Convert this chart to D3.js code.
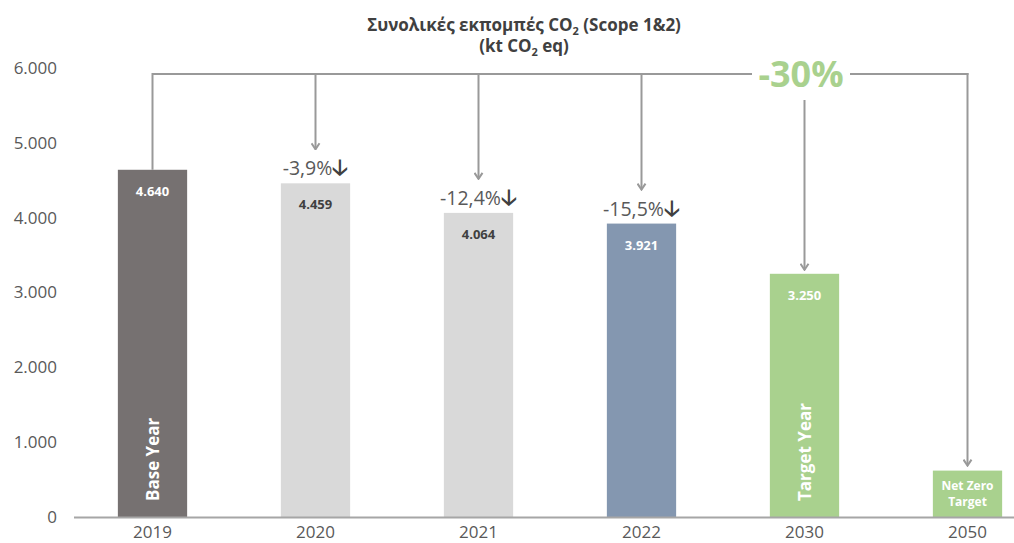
<!DOCTYPE html>
<html><head><meta charset="utf-8">
<script src="https://cdn.jsdelivr.net/npm/d3@7/dist/d3.min.js"></script>
<style>body{margin:0;background:#fff;} text{font-family:"Open Sans",sans-serif;}</style>
</head><body><svg id="c" width="1014" height="543"></svg>
<script>
const categories = ["2019","2020","2021","2022","2030","2050"];
const values = [4640, 4459, 4064, 3921, 3250, 620];
const valueLabels = ["4.640","4.459","4.064","3.921","3.250","Net Zero\nTarget"];
const barColors = ["#767171","#d9d9d9","#d9d9d9","#8497b0","#a9d18e","#a9d18e"];
const labelColors = ["#ffffff","#404040","#404040","#ffffff","#ffffff","#ffffff"];
const changeLabels = [null,"-3,9%","-12,4%","-15,5%",null,null];
const sideLabels = ["Base Year",null,null,null,"Target Year",null];
const yTicks = [0,1000,2000,3000,4000,5000,6000];
const totalChange = "-30%";

const svg = d3.select("#c");
const x = d3.scaleBand().domain(categories).range([71,1049]).paddingInner(0.575).paddingOuter(0.2875);
const y = d3.scaleLinear().domain([0,6000]).range([517,68]);
const fmt = d3.formatLocale({decimal:",",thousands:".",grouping:[3],currency:["","€"]}).format(",.0f");

// title
const t = svg.append("text").attr("text-anchor","middle").attr("font-weight","bold").attr("font-size",17).attr("fill","#404040");
const l1 = t.append("tspan").attr("x",524).attr("y",31);
l1.append("tspan").text("Συνολικές εκπομπές CO");
l1.append("tspan").text("2").attr("font-size",11).attr("dy",4);
l1.append("tspan").text(" (Scope 1&2)").attr("dy",-4);
const l2 = t.append("tspan").attr("x",524).attr("y",52);
l2.append("tspan").text("(kt CO");
l2.append("tspan").text("2").attr("font-size",11).attr("dy",4);
l2.append("tspan").text(" eq)").attr("dy",-4);

// y axis labels
const yAxis = d3.axisLeft(y).tickValues(yTicks).tickFormat(fmt).tickSize(0).tickPadding(0);
const ya = svg.append("g").attr("transform","translate(57,0)").call(yAxis);
ya.select(".domain").remove();
ya.selectAll("text").attr("font-size",17).attr("fill","#595959").style("font-family","Open Sans");

// bars
const cx = c => x(c) + x.bandwidth()/2;
svg.selectAll("rect.bar").data(categories).join("rect").attr("class","bar")
  .attr("x",d=>x(d)).attr("width",x.bandwidth())
  .attr("y",(d,i)=>y(values[i])).attr("height",(d,i)=>y(0)-y(values[i]))
  .attr("fill",(d,i)=>barColors[i]);

// x axis
const xAxis = d3.axisBottom(x).tickSize(0).tickPadding(9);
const xa = svg.append("g").attr("transform","translate(0,517)").call(xAxis);
xa.select(".domain").remove();
xa.selectAll("text").attr("font-size",17).attr("fill","#595959").style("font-family","Open Sans");
svg.append("line").attr("x1",74).attr("x2",1014).attr("y1",517.5).attr("y2",517.5).attr("stroke","#a6a6a6").attr("stroke-width",2);

// value labels
categories.forEach((c,i)=>{
  const lines = valueLabels[i].split("\n");
  const tx = svg.append("text").attr("text-anchor","middle").attr("font-weight","bold")
    .attr("font-size", lines.length>1?12:13).attr("fill",labelColors[i]);
  lines.forEach((ln,k)=>{
    tx.append("tspan").attr("x",cx(c)).attr("y", y(values[i]) + (lines.length>1? 19 + k*16 : 26)).text(ln);
  });
  if (sideLabels[i]) {
    svg.append("text").attr("transform",`translate(${cx(c)+6},${y(0)-16}) rotate(-90)`)
      .attr("font-weight","bold").attr("font-size",17).attr("fill","#fff").text(sideLabels[i]);
  }
  if (changeLabels[i]) {
    const ct = svg.append("text").attr("x",cx(c)).attr("y",y(values[i])-8).attr("text-anchor","middle")
      .attr("font-size",19.5).attr("fill","#595959");
    ct.append("tspan").text(changeLabels[i]);
    ct.append("tspan").text("🡣").attr("font-family","DejaVu Sans").attr("font-weight","bold").attr("font-size",22).attr("fill","#404040");
  }
});

// bracket
const defs = svg.append("defs");
defs.append("marker").attr("id","ah").attr("viewBox","0 0 10 10").attr("refX",9).attr("refY",5)
  .attr("markerWidth",10).attr("markerHeight",10).attr("orient","auto").attr("markerUnits","userSpaceOnUse")
  .append("path").attr("d","M3,1 L9,5 L3,9").attr("fill","none").attr("stroke","#999").attr("stroke-width",2);
const by = 74, gc = "#999";
svg.append("line").attr("x1",cx("2019")).attr("x2",752).attr("y1",by).attr("y2",by).attr("stroke",gc).attr("stroke-width",2);
svg.append("line").attr("x1",850).attr("x2",cx("2050")+1).attr("y1",by).attr("y2",by).attr("stroke",gc).attr("stroke-width",2);
svg.append("line").attr("x1",cx("2019")).attr("x2",cx("2019")).attr("y1",by-1).attr("y2",y(values[0])).attr("stroke",gc).attr("stroke-width",2);
const arrowEnds = {"2020":y(values[1])-34,"2021":y(values[2])-34,"2022":y(values[3])-34,"2030":y(values[4])-4,"2050":y(values[5])-5};
Object.entries(arrowEnds).forEach(([c,yy])=>{
  const start = c==="2030" ? 100 : by-1;
  svg.append("line").attr("x1",cx(c)).attr("x2",cx(c)).attr("y1",start).attr("y2",yy)
    .attr("stroke",gc).attr("stroke-width",2).attr("marker-end","url(#ah)");
});
svg.append("text").attr("x",801).attr("y",87).attr("text-anchor","middle").attr("font-weight","bold")
  .attr("font-size",36).attr("fill","#a9d18e").text(totalChange);
</script></body></html>
